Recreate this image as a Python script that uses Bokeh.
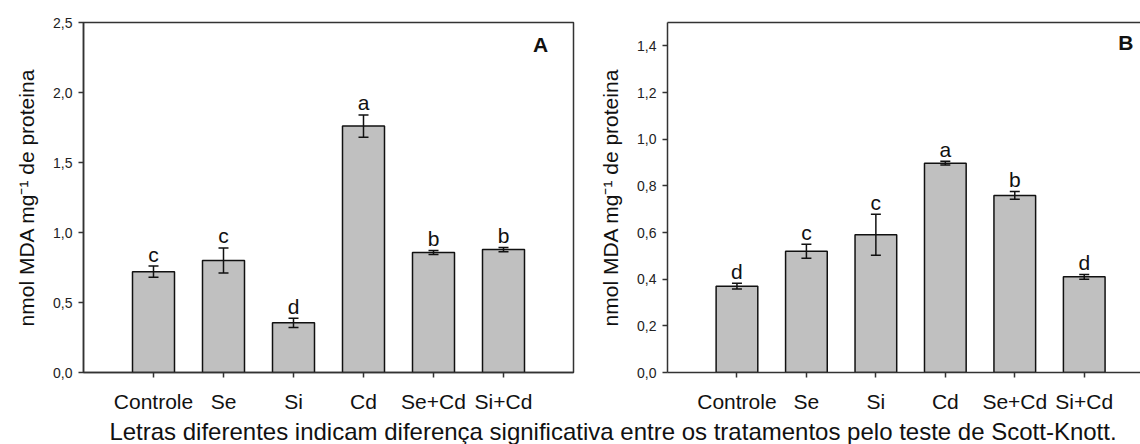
import numpy as np
from bokeh.plotting import figure
from bokeh.models import (ColumnDataSource, Whisker, TeeHead, FixedTicker, CustomJSTickFormatter,
                          Range1d, Label, LinearAxis, Div)
from bokeh.layouts import row, column
from bokeh.embed import file_html
from bokeh.resources import INLINE
from bokeh.core.properties import value

# ---------------- data ----------------
categories = ["Controle", "Se", "Si", "Cd", "Se+Cd", "Si+Cd"]

a_values = [0.72, 0.80, 0.355, 1.76, 0.857, 0.878]
a_errors = [0.04, 0.09, 0.033, 0.08, 0.015, 0.015]
a_letters = ["c", "c", "d", "a", "b", "b"]

b_values = [0.37, 0.52, 0.59, 0.897, 0.759, 0.41]
b_errors = [0.012, 0.03, 0.088, 0.008, 0.017, 0.01]
b_letters = ["d", "c", "c", "a", "b", "d"]

y_label = "nmol MDA mg\u207b\u00b9 de proteina"
caption = "Letras diferentes indicam diferença significativa entre os tratamentos pelo teste de Scott-Knott."

FONT = "Liberation Sans"
AXC = "#333333"


def make_panel(vals, errs, letters, y_max, y_step, y_ticks_max, x_end, width, height,
               border_left, border_right, border_top, border_bottom, panel_letter, letter_pos,
               full_box):
    x = list(range(1, len(categories) + 1))
    src = ColumnDataSource(dict(
        x=x, top=vals,
        upper=[v + e for v, e in zip(vals, errs)],
        lower=[v - e for v, e in zip(vals, errs)],
        letters=letters,
    ))
    p = figure(width=width, height=height, output_backend="svg", toolbar_location=None,
               x_range=Range1d(0, x_end), y_range=Range1d(0, y_max),
               min_border_left=border_left, min_border_right=border_right,
               min_border_top=border_top, min_border_bottom=border_bottom)
    p.grid.visible = False
    p.background_fill_color = "white"
    p.border_fill_color = "white"

    p.vbar(x="x", top="top", width=0.6, bottom=0, source=src,
           fill_color="#c0c0c0", line_color="#111111", line_width=1.5)

    w = Whisker(source=src, base="x", upper="upper", lower="lower",
                line_color="#111111", line_width=1.5, level="overlay",
                upper_head=TeeHead(size=10, line_color="#111111", line_width=1.5),
                lower_head=TeeHead(size=10, line_color="#111111", line_width=1.5))
    p.add_layout(w)

    p.text(x="x", y="upper", text="letters", source=src, text_align="center",
           text_baseline="alphabetic", y_offset=-12, text_font=value(FONT),
           text_font_size="21px", text_color="#111111")

    # axes
    yax = p.yaxis[0]
    ticks = [round(i * y_step, 2) for i in range(int(round(y_ticks_max / y_step)) + 1)]
    yax.ticker = FixedTicker(ticks=ticks)
    yax.formatter = CustomJSTickFormatter(code="return tick.toFixed(1).replace('.', ',');")
    yax.axis_label = y_label
    yax.axis_label_text_font = FONT
    yax.axis_label_text_font_style = "normal"
    yax.axis_label_text_font_size = "21px"
    yax.axis_label_text_color = "#111111"
    yax.axis_label_standoff = 12
    yax.major_label_text_font = FONT
    yax.major_label_text_font_size = "14px"
    yax.major_label_text_color = "#222222"
    yax.major_label_standoff = 6
    yax.major_tick_out = 5
    yax.major_tick_in = 0
    yax.minor_tick_line_color = None
    yax.axis_line_color = AXC
    yax.axis_line_width = 1.5
    yax.major_tick_line_color = AXC
    yax.major_tick_line_width = 1.5

    xax = p.below[0]
    xax.ticker = FixedTicker(ticks=x)
    xax.major_label_overrides = {i: c for i, c in zip(x, categories)}
    xax.major_label_text_font = FONT
    xax.major_label_text_font_size = "21px"
    xax.major_label_text_color = "#111111"
    xax.major_label_standoff = 12
    xax.major_tick_out = 5
    xax.major_tick_in = 0
    xax.minor_tick_line_color = None
    xax.axis_line_color = AXC
    xax.axis_line_width = 1.5
    xax.major_tick_line_color = AXC
    xax.major_tick_line_width = 1.5

    if full_box:
        p.outline_line_color = AXC
        p.outline_line_width = 1.5
    else:
        p.outline_line_color = None
        top_ax = LinearAxis(ticker=FixedTicker(ticks=[]), axis_line_color=AXC, axis_line_width=1.5,
                            major_tick_line_color=None, minor_tick_line_color=None,
                            major_label_text_color=None, major_label_text_font_size="1px",
                            major_tick_out=0, major_tick_in=0, major_label_standoff=0)
        p.add_layout(top_ax, "above")

    p.add_layout(Label(x=letter_pos[0], y=letter_pos[1], text=panel_letter, text_font=FONT,
                       text_font_style="bold", text_font_size="21px", text_align="center",
                       text_baseline="middle", text_color="#111111"))
    return p


pA = make_panel(a_values, a_errors, a_letters, 2.5, 0.5, 2.5, 7.0, 596, 416,
                83, 23, 22, 42, "A", (6.53, 2.34), True)
pB = make_panel(b_values, b_errors, b_letters, 1.5, 0.2, 1.4, 6.81, 544, 416,
                70, 0, 21, 44, "B", (6.6, 1.415), False)

cap = Div(text=caption, width=1140, height=28, margin=(0, 0, 0, 0),
          styles={"font-family": FONT, "font-size": "24px", "color": "#111111",
                  "text-align": "center", "padding-left": "86px", "padding-top": "3px",
                  "box-sizing": "border-box",
                  "width": "1140px", "line-height": "26px", "white-space": "nowrap"})

layout = column(row(pA, pB, spacing=0), cap, spacing=0)

open("out.html", "w").write(file_html(layout, INLINE))
